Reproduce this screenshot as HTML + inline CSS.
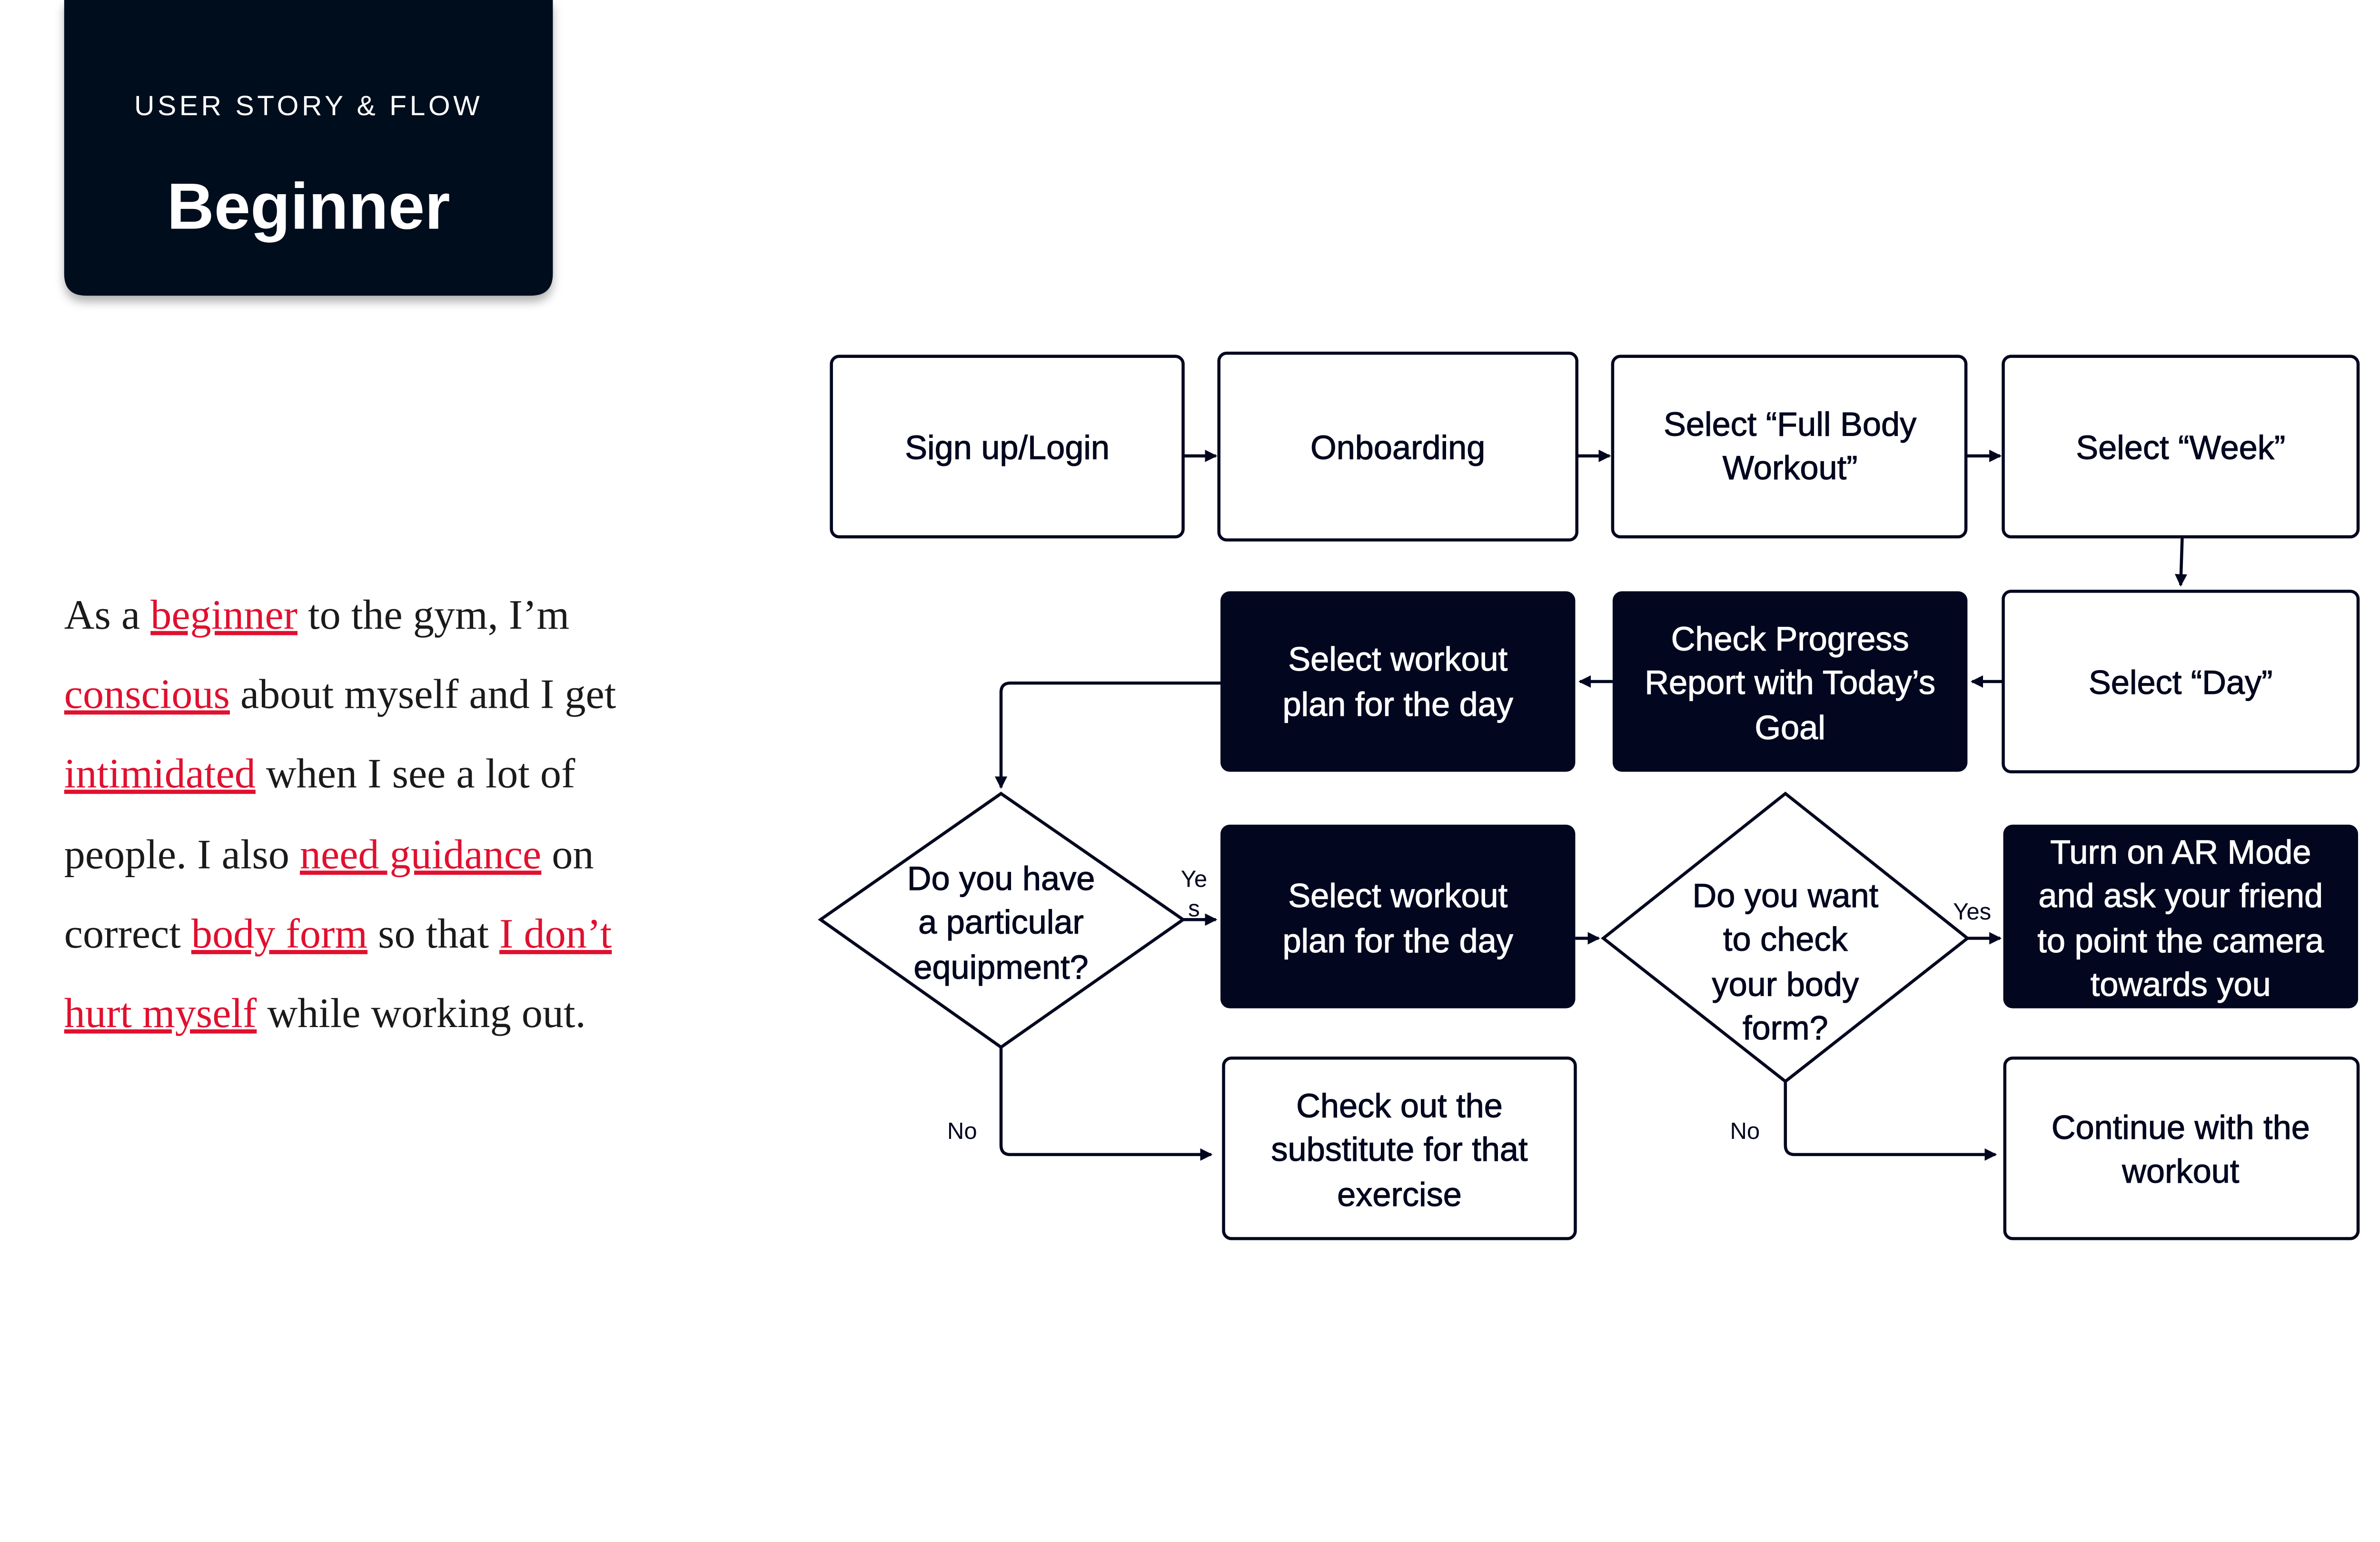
<!DOCTYPE html>
<html><head><meta charset="utf-8"><style>
html,body{margin:0;padding:0;background:#fff;}
svg{display:block;}
</style></head><body>
<svg width="5128" height="3240" viewBox="0 0 1568 991" xmlns="http://www.w3.org/2000/svg" font-family="'Liberation Sans', sans-serif">
<defs>
<filter id="sh" x="-10%" y="-10%" width="120%" height="130%"><feDropShadow dx="0" dy="4" stdDeviation="3" flood-color="#000" flood-opacity="0.3"/></filter>
<marker id="ah" markerWidth="8" markerHeight="8" refX="7" refY="4" orient="auto" markerUnits="userSpaceOnUse"><path d="M0,0 L8,4 L0,8 Z" fill="#02071f"/></marker>
</defs>
<path d="M41,0 H355 V176 Q355,190 341,190 H55 Q41,190 41,176 Z" fill="#02071f" filter="url(#sh)"/>
<text x="198" y="74" fill="#fff" font-size="18" text-anchor="middle" letter-spacing="2">USER STORY &amp; FLOW</text>
<text x="198" y="147" fill="#fff" font-size="42" font-weight="bold" text-anchor="middle">Beginner</text>

<g font-family="'Liberation Serif', serif" font-size="27" fill="#1a1a1a">
<text x="41" y="404">As a <tspan fill="#e0102f" text-decoration="underline">beginner</tspan> to the gym, I’m</text>
<text x="41" y="455"><tspan fill="#e0102f" text-decoration="underline">conscious</tspan> about myself and I get</text>
<text x="41" y="506"><tspan fill="#e0102f" text-decoration="underline">intimidated</tspan> when I see a lot of</text>
<text x="41" y="558">people. I also <tspan fill="#e0102f" text-decoration="underline">need guidance</tspan> on</text>
<text x="41" y="609">correct <tspan fill="#e0102f" text-decoration="underline">body form</tspan> so that <tspan fill="#e0102f" text-decoration="underline">I don’t</tspan></text>
<text x="41" y="660"><tspan fill="#e0102f" text-decoration="underline">hurt myself</tspan> while working out.</text>
</g>

<g stroke="#02071f" stroke-width="2" fill="#fff">
<rect x="534" y="229" width="226" height="116" rx="5"/>
<rect x="783" y="227" width="230" height="120" rx="5"/>
<rect x="1036" y="229" width="227" height="116" rx="5"/>
<rect x="1287" y="229" width="228" height="116" rx="5"/>
<rect x="1287" y="380" width="228" height="116" rx="5"/>
<rect x="786" y="680" width="226" height="116" rx="5"/>
<rect x="1288" y="680" width="227" height="116" rx="5"/>
<polygon points="643,510 760,591 643,673 527,591"/>
<polygon points="1147,510 1264,603 1147,695 1030,603"/>
</g>
<g fill="#02071f">
<rect x="784" y="380" width="228" height="116" rx="6"/>
<rect x="1036" y="380" width="228" height="116" rx="6"/>
<rect x="784" y="530" width="228" height="118" rx="6"/>
<rect x="1287" y="530" width="228" height="118" rx="6"/>
</g>

<g stroke="#02071f" stroke-width="2" fill="none" marker-end="url(#ah)">
<line x1="760" y1="293" x2="781" y2="293"/>
<line x1="1013" y1="293" x2="1034" y2="293"/>
<line x1="1263" y1="293" x2="1285" y2="293"/>
<line x1="1402" y1="345" x2="1401" y2="376"/>
<line x1="1287" y1="438" x2="1267" y2="438"/>
<line x1="1036" y1="438" x2="1015" y2="438"/>
<path d="M784,439 H649 Q643,439 643,445 V506"/>
<line x1="760" y1="591" x2="781" y2="591"/>
<line x1="1012" y1="603" x2="1027" y2="603"/>
<line x1="1264" y1="603" x2="1285" y2="603"/>
<path d="M643,673 V736 Q643,742 649,742 H778"/>
<path d="M1147,695 V736 Q1147,742 1153,742 H1282"/>
</g>

<g font-size="21.5" text-anchor="middle" fill="#02071f" stroke="#02071f" stroke-width="0.35">
<text x="647" y="295">Sign up/Login</text>
<text x="898" y="295">Onboarding</text>
<text x="1150" y="280">Select “Full Body</text>
<text x="1150" y="308">Workout”</text>
<text x="1401" y="295">Select “Week”</text>
<text x="1401" y="446">Select “Day”</text>
<text x="643" y="572">Do you have</text>
<text x="643" y="600">a particular</text>
<text x="643" y="629">equipment?</text>
<text x="1147" y="583">Do you want</text>
<text x="1147" y="611">to check</text>
<text x="1147" y="640">your body</text>
<text x="1147" y="668">form?</text>
<text x="899" y="718">Check out the</text>
<text x="899" y="746">substitute for that</text>
<text x="899" y="775">exercise</text>
<text x="1401" y="732">Continue with the</text>
<text x="1401" y="760">workout</text>
</g>
<g font-size="21.5" text-anchor="middle" fill="#fff" stroke="#fff" stroke-width="0.35">
<text x="898" y="431">Select workout</text>
<text x="898" y="460">plan for the day</text>
<text x="1150" y="418">Check Progress</text>
<text x="1150" y="446">Report with Today’s</text>
<text x="1150" y="475">Goal</text>
<text x="898" y="583">Select workout</text>
<text x="898" y="612">plan for the day</text>
<text x="1401" y="555">Turn on AR Mode</text>
<text x="1401" y="583">and ask your friend</text>
<text x="1401" y="612">to point the camera</text>
<text x="1401" y="640">towards you</text>
</g>
<g font-size="15" text-anchor="middle" fill="#02071f">
<text x="767" y="570">Ye</text>
<text x="767" y="589">s</text>
<text x="1267" y="591">Yes</text>
<text x="618" y="732">No</text>
<text x="1121" y="732">No</text>
</g>
</svg>
</body></html>
